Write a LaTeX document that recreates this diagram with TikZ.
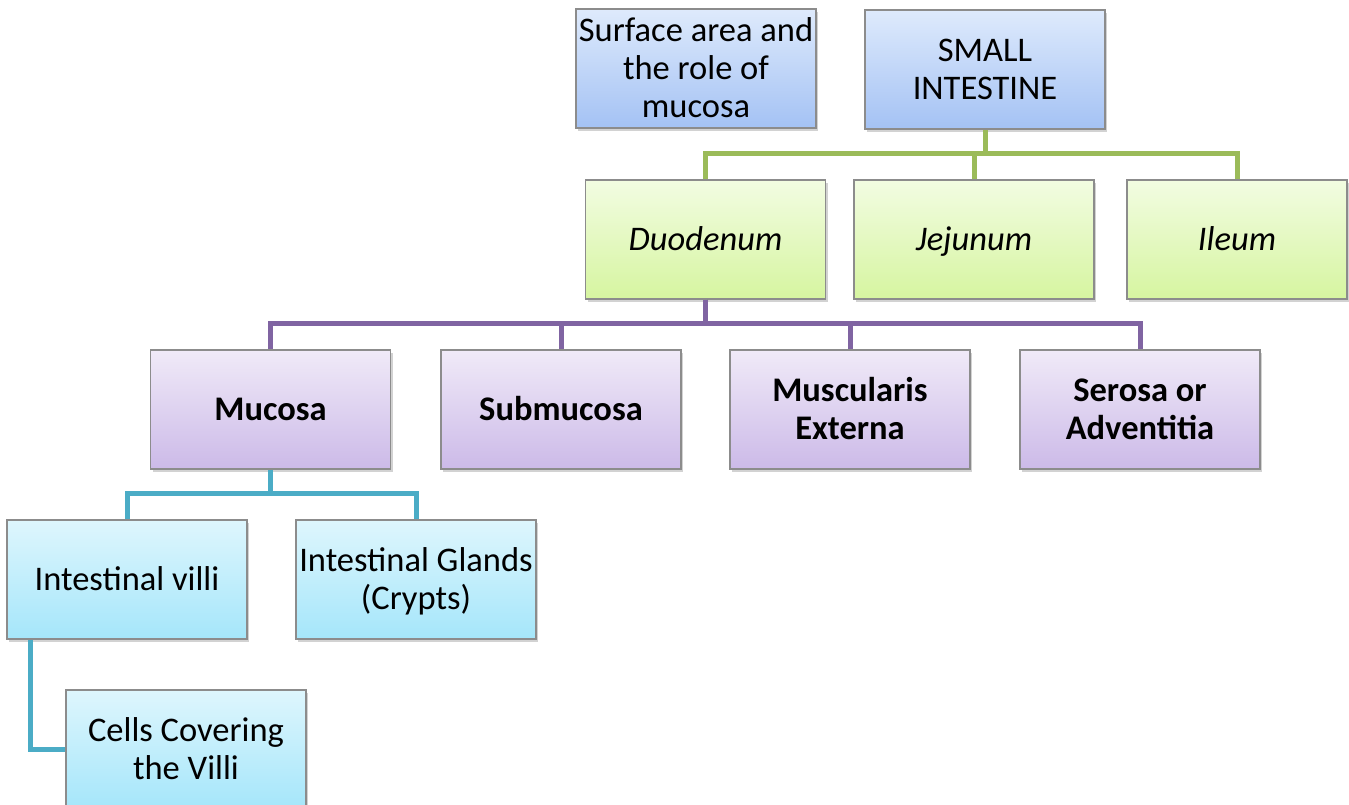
\documentclass[tikz,border=0pt]{standalone}
\usepackage{fontspec}
\setmainfont{Carlito}
\usetikzlibrary{shadows}
\definecolor{bord}{HTML}{8C8C8C}
\definecolor{lgreen}{HTML}{9BBB59}
\definecolor{lpurple}{HTML}{8064A2}
\definecolor{lteal}{HTML}{4BACC6}
\newcommand\ls{\rule[-7.9pt]{0pt}{38pt}}
\tikzset{
  box/.style={draw=bord, line width=1.2pt, minimum width=240, minimum height=119, inner sep=0pt,
    align=center, font=\fontsize{34.5}{38}\selectfont,
    drop shadow={opacity=0.35, shadow xshift=2pt, shadow yshift=-3pt}},
  bbox/.style={box, top color={rgb,255:red,222;green,234;blue,252}, bottom color={rgb,255:red,164;green,194;blue,244}},
  gbox/.style={box, top color={rgb,255:red,242;green,252;blue,226}, bottom color={rgb,255:red,214;green,245;blue,160}},
  pbox/.style={box, top color={rgb,255:red,240;green,234;blue,248}, bottom color={rgb,255:red,204;green,186;blue,232}},
  cbox/.style={box, top color={rgb,255:red,222;green,246;blue,253}, bottom color={rgb,255:red,165;green,230;blue,250}},
  gline/.style={draw=lgreen, line width=5pt},
  pline/.style={draw=lpurple, line width=5pt},
  tline/.style={draw=lteal, line width=5pt},
}
\begin{document}
\begin{tikzpicture}[x=1pt,y=-1pt]
\useasboundingbox[fill=white] (0,0) rectangle (1349,805);
% nodes
\node[bbox] (surf) at (696,68.5) {\ls Surface area and\\\ls the role of\\\ls mucosa};
\node[bbox] (si) at (985,69.5) {\ls SMALL\\\ls INTESTINE};
\node[gbox] (duo) at (705.5,239.5) {\ls\itshape Duodenum};
\node[gbox] (jej) at (974,239.5) {\ls\itshape Jejunum};
\node[gbox, minimum width=220] (ile) at (1237,239.5) {\ls\itshape Ileum};
\node[pbox] (muc) at (270.5,409.5) {\ls\bfseries Mucosa};
\node[pbox] (sub) at (561,409.5) {\ls\bfseries Submucosa};
\node[pbox] (mus) at (850,409.5) {\ls\bfseries Muscularis\\\ls\bfseries Externa};
\node[pbox] (ser) at (1140,409.5) {\ls\bfseries Serosa or\\\ls\bfseries Adventitia};
\node[cbox] (vil) at (127,579.5) {\ls Intestinal villi};
\node[cbox] (gla) at (416,579.5) {\ls Intestinal Glands\\\ls (Crypts)};
\node[cbox] (cel) at (186,749.5) {\ls Cells Covering\\\ls the Villi};
% connectors
\path[gline] (si.south) -- ++(0,24) -| (duo.north);
\path[gline] (si.south) -- ++(0,24) -| (jej.north);
\path[gline] (si.south) -- ++(0,24) -| (ile.north);
\path[pline] (duo.south) -- ++(0,24) -| (muc.north);
\path[pline] (duo.south) -- ++(0,24) -| (sub.north);
\path[pline] (duo.south) -- ++(0,24) -| (mus.north);
\path[pline] (duo.south) -- ++(0,24) -| (ser.north);
\path[tline] (muc.south) -- ++(0,24) -| (vil.north);
\path[tline] (muc.south) -- ++(0,24) -| (gla.north);
\path[tline] ([xshift=-97pt]vil.south) |- (cel.west);
\end{tikzpicture}
\end{document}
